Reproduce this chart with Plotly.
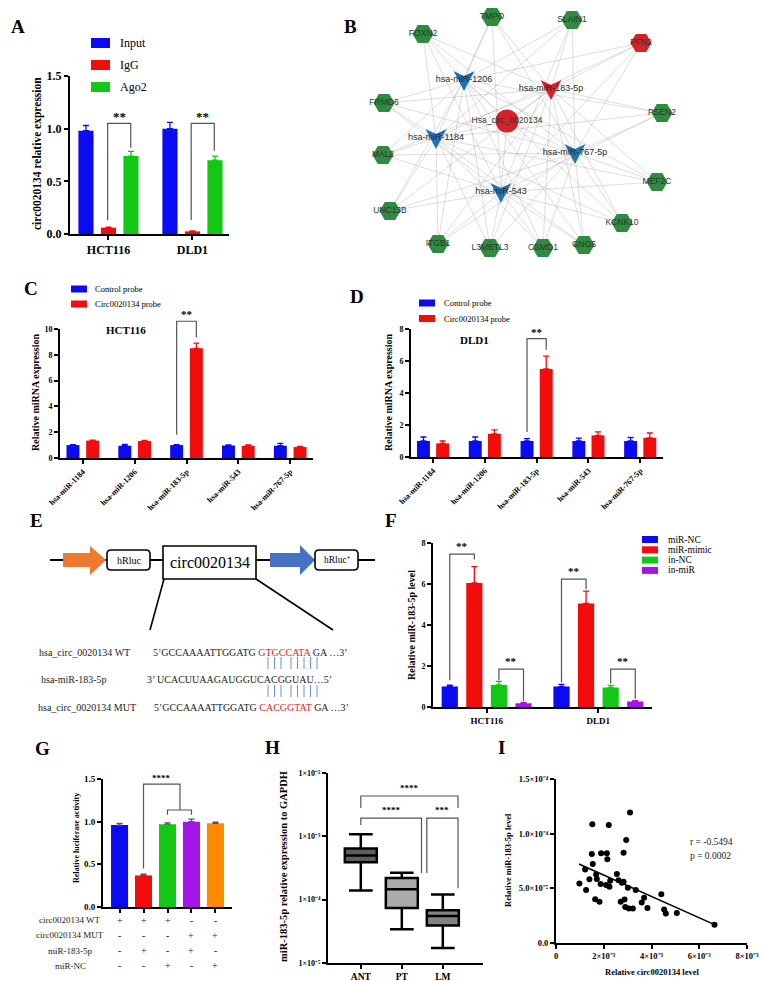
import plotly.graph_objects as go
import math

W, H = 762, 981
SERIF = "Liberation Serif"
SANS = "Liberation Sans"

BLUE = "#0B0BF2"
RED = "#F20C0C"
GREEN = "#12C812"
PURPLE = "#A414E6"
ORANGE = "#FF8A00"

# ---------------- data ----------------
# Panel A  (RIP)
a_cells = ["HCT116", "DLD1"]
a_series = ["Input", "IgG", "Ago2"]
a_input = [0.98, 1.00]
a_input_err = [0.05, 0.06]
a_igg = [0.06, 0.025]
a_igg_err = [0.006, 0.005]
a_ago2 = [0.74, 0.70]
a_ago2_err = [0.045, 0.04]

# Panel B  (ceRNA network)
circ_name = "Hsa_circ_0020134"
net_mirnas = ["hsa-miR-1206", "hsa-miR-183-5p", "hsa-miR-1184", "hsa-miR-767-5p", "hsa-miR-543"]
net_mirna_hit = [False, True, False, False, False]
net_genes = ["TMPO", "SLAIN1", "FOXN2", "PFN2", "FRMD6", "PSEN2", "MAL2", "MEF2C",
             "UNC13B", "KCNK10", "ITGB1", "L3MBTL3", "CSMD1", "GNG5"]
net_gene_hit = [False, False, False, True, False, False, False, False,
                False, False, False, False, False, False]
# layout positions of the network drawing (pixels)
pos_circ = (507, 121)
pos_mirnas = [(464, 80), (551, 89), (436, 138), (575, 153), (501, 192)]
pos_genes = [(492, 17), (572, 20), (423, 34), (641, 43), (384, 103), (662, 113),
             (383, 155), (657, 182), (390, 211), (622, 223), (438, 244), (490, 248),
             (543, 248), (584, 245)]

# Panels C / D (pull-down)
mirnas = ["hsa-miR-1184", "hsa-miR-1206", "hsa-miR-183-5p", "hsa-miR-543", "hsa-miR-767-5p"]
probe_series = ["Control probe", "Circ0020134 probe"]
c_control = [1.00, 0.95, 1.00, 0.97, 0.95]
c_control_err = [0.04, 0.10, 0.04, 0.04, 0.18]
c_probe = [1.35, 1.32, 8.50, 0.95, 0.85]
c_probe_err = [0.04, 0.05, 0.40, 0.07, 0.04]
d_control = [1.00, 1.00, 1.00, 1.00, 1.00]
d_control_err = [0.25, 0.25, 0.15, 0.18, 0.22]
d_probe = [0.85, 1.45, 5.50, 1.35, 1.20]
d_probe_err = [0.15, 0.25, 0.80, 0.22, 0.30]

# Panel F
f_cells = ["HCT116", "DLD1"]
f_series = ["miR-NC", "miR-mimic", "in-NC", "in-miR"]
f_mirnc = [1.00, 1.00]
f_mirnc_err = [0.07, 0.10]
f_mimic = [6.05, 5.05]
f_mimic_err = [0.80, 0.60]
f_innc = [1.08, 0.95]
f_innc_err = [0.17, 0.10]
f_inmir = [0.18, 0.27]
f_inmir_err = [0.04, 0.04]

# Panel G (luciferase)
g_vals = [0.96, 0.37, 0.97, 1.00, 0.98]
g_err = [0.02, 0.015, 0.015, 0.03, 0.015]
g_row_labels = ["circ0020134 WT", "circ0020134 MUT", "miR-183-5p", "miR-NC"]
g_rows = [["+", "+", "+", "-", "-"],
          ["-", "-", "-", "+", "+"],
          ["-", "+", "-", "+", "-"],
          ["-", "-", "+", "-", "+"]]

# Panel H (box plot, log scale)
h_groups = ["ANT", "PT", "LM"]
h_min = [1.40e-4, 3.4e-5, 1.73e-5]
h_q1 = [3.9e-4, 7.4e-5, 3.9e-5]
h_med = [5.0e-4, 1.46e-4, 5.5e-5]
h_q3 = [6.4e-4, 2.2e-4, 6.8e-5]
h_max = [1.08e-3, 2.67e-4, 1.21e-4]
h_fill = ["#5E5E5E", "#ABABAB", "#828282"]
h_ticktext = ["1×10⁻⁵", "1×10⁻⁴", "1×10⁻³", "1×10⁻²"]

# Panel I (correlation)
i_x = [0.98e-3, 1.26e-3, 1.22e-3, 1.40e-3, 1.50e-3, 1.52e-3, 1.54e-3, 1.64e-3, 1.68e-3, 1.71e-3,
       1.82e-3, 1.87e-3, 1.89e-3, 2.10e-3, 2.13e-3, 2.15e-3, 2.21e-3, 2.24e-3, 2.27e-3, 2.55e-3,
       2.62e-3, 2.71e-3, 2.76e-3, 2.83e-3, 2.83e-3, 2.87e-3, 2.90e-3, 2.94e-3, 3.01e-3, 3.05e-3,
       3.10e-3, 3.22e-3, 3.34e-3, 3.59e-3, 3.69e-3, 3.83e-3, 4.41e-3, 4.53e-3, 4.60e-3, 5.06e-3,
       6.64e-3]
i_y = [5.45e-5, 4.84e-5, 6.73e-5, 5.82e-5, 8.14e-5, 1.087e-4, 7.22e-5, 4.0e-5, 6.27e-5, 5.85e-5,
       3.77e-5, 5.39e-5, 8.2e-5, 5.3e-5, 8.2e-5, 7.65e-5, 1.08e-4, 5.14e-5, 5.7e-5, 6.3e-5,
       5.75e-5, 3.77e-5, 5.5e-5, 5.6e-5, 8.26e-5, 3.98e-5, 3.3e-5, 9.43e-5, 5.05e-5, 3.15e-5,
       1.194e-4, 3.15e-5, 4.84e-5, 3.7e-5, 4.13e-5, 3.21e-5, 4.47e-5, 3.06e-5, 2.69e-5, 2.75e-5,
       1.68e-5]
i_fit_x = [0.96e-3, 6.64e-3]
i_fit_y = [7.22e-5, 1.68e-5]
i_stats = ["r = -0.5494", "p = 0.0002"]
i_xticktext = ["0", "2×10⁻³", "4×10⁻³", "6×10⁻³", "8×10⁻³"]
i_yticktext = ["0.0", "5.0×10⁻⁵", "1.0×10⁻⁴", "1.5×10⁻⁴"]

# ---------------- geometry of the subplots (pixels) ----------------
# name: (left, right, xmin, xmax, top, bottom, ymin, ymax, ylog)
GEOM = {
    "A": (70, 229, -0.458, 1.435, 76, 234, 0, 1.5, False),
    "C": (60, 313, -0.44, 4.44, 329, 458, 0, 10, False),
    "D": (411, 663, -0.425, 4.44, 329, 457, 0, 8, False),
    "F": (433, 652, -0.48, 1.48, 543, 707, 0, 8, False),
    "G": (103, 232, -0.69, 4.69, 779, 907, 0, 1.5, False),
    "H": (328, 483, -0.80, 2.98, 773, 963, -5, -2, True),
    "I": (556, 747, 0, 8e-3, 779, 943, 0, 1.5e-4, False),
}

fig = go.Figure()


def px(panel, x, y):
    l, r, x0, x1, t, b, y0, y1, lg = GEOM[panel]
    if lg:
        y = math.log10(y)
    return l + (x - x0) / (x1 - x0) * (r - l), b - (y - y0) / (y1 - y0) * (b - t)


def xd(panel):
    g = GEOM[panel]
    return [g[0] / W, g[1] / W]


def yd(panel):
    g = GEOM[panel]
    return [1 - g[5] / H, 1 - g[4] / H]


def xr(panel):
    return [GEOM[panel][2], GEOM[panel][3]]


def yr(panel):
    return [GEOM[panel][6], GEOM[panel][7]]


def axis(domain, anchor, tick_size=9, bold=True, **kw):
    d = dict(domain=domain, anchor=anchor, showline=True, linecolor="black", linewidth=2,
             ticks="outside", tickcolor="black", tickwidth=2, ticklen=4,
             showgrid=False, zeroline=False, automargin=False, fixedrange=True,
             tickfont=dict(family=SERIF, size=tick_size, color="black",
                           weight="bold" if bold else "normal"))
    d.update(kw)
    return d


def bars(xa, ya, vals, errs, color, center, width, name):
    n = len(vals)
    fig.add_trace(go.Bar(
        x=list(range(n)), y=vals, name=name, offset=center - width / 2, width=width,
        marker=dict(color=color, line=dict(width=0)),
        error_y=dict(type="data", symmetric=False, array=errs, arrayminus=[0] * n,
                     color=color, thickness=1.3, width=3),
        xaxis=xa, yaxis=ya, showlegend=False, hoverinfo="y"))


def ctext(x, y, text, size=10, family=SERIF, bold=False, anchor="center", color="black", angle=0):
    fig.add_annotation(x=x, y=y, xref="x8", yref="y8", text=text, showarrow=False,
                       xanchor=anchor, yanchor="middle", textangle=angle,
                       font=dict(family=family, size=size, color=color,
                                 weight="bold" if bold else "normal"))


def bracket(panel, x0, x1, ytop, yl, yr_, label=None, ty=None, size=11, color="#555555"):
    p1 = px(panel, x0, yl)
    p2 = px(panel, x0, ytop)
    p3 = px(panel, x1, ytop)
    p4 = px(panel, x1, yr_)
    fig.add_trace(go.Scatter(
        x=[p1[0], p2[0], p3[0], p4[0]], y=[p1[1], p2[1], p3[1], p4[1]], mode="lines",
        line=dict(color=color, width=1.2), xaxis="x8", yaxis="y8",
        showlegend=False, hoverinfo="skip"))
    if label:
        tx, tyy = px(panel, (x0 + x1) / 2, ty)
        ctext(tx, tyy, label, size=size, bold=True)


def crect(x0, y0, x1, y1, fill, line_w=0, line_c="black"):
    fig.add_shape(type="rect", x0=x0, y0=y0, x1=x1, y1=y1, xref="x8", yref="y8",
                  fillcolor=fill, line=dict(width=line_w, color=line_c), layer="above")


def cline(x0, y0, x1, y1, color="black", w=1.5):
    fig.add_shape(type="line", x0=x0, y0=y0, x1=x1, y1=y1, xref="x8", yref="y8",
                  line=dict(color=color, width=w), layer="above")


def cpath(path, fill, line_w=0, line_c="black"):
    fig.add_shape(type="path", path=path, xref="x8", yref="y8", fillcolor=fill,
                  line=dict(width=line_w, color=line_c), layer="above")


def rounded(x0, y0, x1, y1, r):
    return (f"M {x0+r},{y0} L {x1-r},{y0} Q {x1},{y0} {x1},{y0+r} L {x1},{y1-r} "
            f"Q {x1},{y1} {x1-r},{y1} L {x0+r},{y1} Q {x0},{y1} {x0},{y1-r} "
            f"L {x0},{y0+r} Q {x0},{y0} {x0+r},{y0} Z")


# ---------------- Panel A ----------------
a_w = 0.18
bars("x", "y", a_input, a_input_err, BLUE, -0.268, a_w, a_series[0])
bars("x", "y", a_igg, a_igg_err, RED, 0.0, a_w, a_series[1])
bars("x", "y", a_ago2, a_ago2_err, GREEN, 0.268, a_w, a_series[2])
bracket("A", -0.01, 0.265, 1.05, 0.13, 0.82, "**", 1.12, size=13)
bracket("A", 0.985, 1.26, 1.05, 0.13, 0.79, "**", 1.12, size=13)
for i, (nm, col) in enumerate(zip(a_series, [BLUE, RED, GREEN])):
    yy = 43 + 22 * i
    crect(91, yy - 5, 110, yy + 5, col)
    ctext(118, yy, nm, size=12, anchor="left")
ctext(37, 154, "circ0020134 relative expression", size=11.5, bold=True, angle=-90)

# ---------------- Panel B (network) ----------------
ex, ey = [], []
for (mx, my) in pos_mirnas:
    ex += [pos_circ[0], mx, None]
    ey += [pos_circ[1], my, None]
    for (gx, gy) in pos_genes:
        ex += [mx, gx, None]
        ey += [my, gy, None]
fig.add_trace(go.Scatter(x=ex, y=ey, mode="lines", line=dict(color="rgba(150,150,150,0.42)", width=0.75),
                         xaxis="x8", yaxis="y8", showlegend=False, hoverinfo="skip"))
for hit, col in [(False, "#1F74B8"), (True, "#D42226")]:
    vx, vy = [], []
    for (mx, my), h in zip(pos_mirnas, net_mirna_hit):
        if h != hit:
            continue
        vx += [mx - 10.5, mx, mx + 10.5, mx, mx - 10.5, None]
        vy += [my - 9, my - 4, my - 9, my + 11, my - 9, None]
    fig.add_trace(go.Scatter(x=vx, y=vy, mode="lines", fill="toself", fillcolor=col,
                             line=dict(width=0, color=col), xaxis="x8", yaxis="y8",
                             showlegend=False, hoverinfo="skip"))
fig.add_trace(go.Scatter(
    x=[p[0] for p in pos_genes], y=[p[1] for p in pos_genes], mode="markers+text",
    text=net_genes, textposition="middle center",
    textfont=dict(family=SANS, size=8.5, color="#333333"),
    marker=dict(symbol="hexagon2", size=21,
                color=["#D42226" if h else "#2E8B3F" for h in net_gene_hit], line=dict(width=0)),
    xaxis="x8", yaxis="y8", showlegend=False))
fig.add_trace(go.Scatter(
    x=[pos_circ[0]], y=[pos_circ[1]], mode="markers+text", text=[circ_name],
    textposition="middle center", textfont=dict(family=SANS, size=8.5, color="#333333"),
    marker=dict(symbol="circle", size=23, color="#D42226", line=dict(width=0)),
    xaxis="x8", yaxis="y8", showlegend=False))
fig.add_trace(go.Scatter(
    x=[p[0] for p in pos_mirnas], y=[p[1] for p in pos_mirnas], mode="text", text=net_mirnas,
    textposition="middle center", textfont=dict(family=SANS, size=9, color="#2A2A2A"),
    xaxis="x8", yaxis="y8", showlegend=False))

# ---------------- Panel C ----------------
cd_w = 0.25
bars("x2", "y2", c_control, c_control_err, BLUE, -0.19, cd_w, probe_series[0])
bars("x2", "y2", c_probe, c_probe_err, RED, 0.19, cd_w, probe_series[1])
bracket("C", 1.81, 2.19, 10.6, 1.8, 9.35, "**", 11.2, size=11)
ctext(126, 330, "HCT116", size=11, bold=True)
for i, (nm, col) in enumerate(zip(probe_series, [BLUE, RED])):
    yy = 289 + 15 * i
    crect(71, yy - 3.5, 87, yy + 3.5, col)
    ctext(93, yy, nm, size=8.5, anchor="left")
ctext(35, 393, "Relative miRNA expression", size=10, bold=True, angle=-90)

# ---------------- Panel D ----------------
bars("x3", "y3", d_control, d_control_err, BLUE, -0.185, cd_w, probe_series[0])
bars("x3", "y3", d_probe, d_probe_err, RED, 0.185, cd_w, probe_series[1])
bracket("D", 1.815, 2.185, 7.4, 1.56, 6.7, "**", 7.8, size=11)
ctext(474, 340, "DLD1", size=11, bold=True)
for i, (nm, col) in enumerate(zip(probe_series, [BLUE, RED])):
    yy = 303 + 15.5 * i
    crect(419, yy - 3.5, 435, yy + 3.5, col)
    ctext(442, yy, nm, size=8.5, anchor="left")
ctext(388, 393, "Relative miRNA expression", size=10, bold=True, angle=-90)

# ---------------- Panel E (construct diagram) ----------------
cline(50, 560, 375, 560, w=2)
cpath("M 63,553 L 90,553 L 90,546 L 106,560 L 90,575 L 90,567 L 63,567 Z", "#EC7A30")
cpath(rounded(107, 550, 150, 570, 4), "white", 1.6)
ctext(128.5, 560, "hRluc", size=10)
cpath("M 163,546 L 256,546 L 256,579 L 163,579 Z", "white", 1.6)
ctext(209.5, 562.5, "circ0020134", size=16)
cpath("M 270,553 L 300,553 L 300,545 L 315,560 L 300,575 L 300,567 L 270,567 Z", "#4472C4")
cpath(rounded(315, 550, 358, 570, 4), "white", 1.6)
ctext(336.5, 560, "hRluc⁺", size=9.5)
cline(164, 579, 150, 630, w=1.6)
cline(256, 579, 333, 630, w=1.6)

SEQ_RED = "#E0231E"
ctext(84, 652, "hsa_circ_0020134 WT", size=10, color="#222222")
ctext(151, 652, "5’GCCAAAATTGGATG <span style='color:%s'>GTGCCATA</span> GA …3’" % SEQ_RED,
      size=10, anchor="left", color="#222222")
ctext(74, 679, "hsa-miR-183-5p", size=10, color="#222222")
ctext(145, 679, "3’ UCACUUAAGAUGGUCACGGUAU…5’", size=10, anchor="left", color="#222222")
ctext(87, 707, "hsa_circ_0020134 MUT", size=10, color="#222222")
ctext(152, 707, "5’GCCAAAATTGGATG <span style='color:%s'>CACGGTAT</span> GA …3’" % SEQ_RED,
      size=10, anchor="left", color="#222222")
for lx in [268, 274.5, 281, 291, 297.5, 304, 310.5, 317]:
    cline(lx, 657, lx, 669, color="#6C8FD2", w=1)
    cline(lx, 685, lx, 697, color="#6C8FD2", w=1)

# ---------------- Panel F ----------------
f_w = 0.145
bars("x4", "y4", f_mirnc, f_mirnc_err, BLUE, -0.33, f_w, f_series[0])
bars("x4", "y4", f_mimic, f_mimic_err, RED, -0.11, f_w, f_series[1])
bars("x4", "y4", f_innc, f_innc_err, GREEN, 0.11, f_w, f_series[2])
bars("x4", "y4", f_inmir, f_inmir_err, PURPLE, 0.33, f_w, f_series[3])
bracket("F", -0.33, -0.11, 7.46, 1.3, 7.2, "**", 7.85)
bracket("F", 0.11, 0.33, 1.85, 1.3, 0.3, "**", 2.22)
bracket("F", 0.67, 0.89, 6.24, 1.2, 5.75, "**", 6.62)
bracket("F", 1.11, 1.33, 1.85, 1.15, 0.4, "**", 2.22)
for i, (nm, col) in enumerate(zip(f_series, [BLUE, RED, GREEN, PURPLE])):
    yy = 539.5 + 10.3 * i
    crect(642, yy - 3.5, 658, yy + 3.5, col)
    ctext(666, yy, nm, size=9.5, anchor="left")
ctext(411, 625, "Relative miR-183-5p level", size=10, bold=True, angle=-90)

# ---------------- Panel G ----------------
g_cols = [BLUE, RED, GREEN, PURPLE, ORANGE]
fig.add_trace(go.Bar(
    x=list(range(5)), y=g_vals, width=0.71, marker=dict(color=g_cols, line=dict(width=0)),
    error_y=dict(type="data", symmetric=False, array=g_err, arrayminus=[0] * 5,
                 color="#555555", thickness=1.2, width=3),
    xaxis="x5", yaxis="y5", showlegend=False, name="Relative luciferase activity"))
bracket("G", 1.0, 2.52, 1.44, 0.45, 1.14, "****", 1.515, size=9)
bracket("G", 2.0, 3.0, 1.137, 1.08, 1.08)
for r, (lab, row) in enumerate(zip(g_row_labels, g_rows)):
    yy = 920 + 15.3 * r
    ctext(70, yy, lab, size=9, color="#222222")
    for k, s in enumerate(row):
        fig.add_annotation(x=k, y=yy, xref="x5", yref="y8", text=s, showarrow=False,
                           font=dict(family=SERIF, size=10, color="#222222"))
ctext(76, 838, "Relative luciferase activity", size=8, bold=True, angle=-90)

# ---------------- Panel H ----------------
for k, g in enumerate(h_groups):
    fig.add_trace(go.Box(
        x=[k], q1=[h_q1[k]], median=[h_med[k]], q3=[h_q3[k]],
        lowerfence=[h_min[k]], upperfence=[h_max[k]], name=g,
        fillcolor=h_fill[k], line=dict(color="black", width=2.5), width=0.78,
        whiskerwidth=0.74, boxpoints=False, xaxis="x6", yaxis="y6", showlegend=False))
bracket("H", 0.0, 2.37, 4.33e-3, 2.8e-3, 2.8e-3, "****", 5.8e-3, size=9)
bracket("H", 0.0, 1.48, 1.94e-3, 1.51e-3, 2.63e-4, "****", 2.6e-3, size=9)
bracket("H", 1.61, 2.37, 1.94e-3, 2.63e-4, 1.52e-4, "***", 2.6e-3, size=9)
ctext(283, 867, "miR-183-5p relative expression to GAPDH", size=10.5, bold=True, angle=-90)

# ---------------- Panel I ----------------
fig.add_trace(go.Scatter(x=i_x, y=i_y, mode="markers", marker=dict(color="black", size=6),
                         xaxis="x7", yaxis="y7", showlegend=False, name="samples"))
fig.add_trace(go.Scatter(x=i_fit_x, y=i_fit_y, mode="lines", line=dict(color="black", width=1.6),
                         xaxis="x7", yaxis="y7", showlegend=False, name="fit"))
ctext(688, 842, i_stats[0], size=9.5, anchor="left", color="#222222")
ctext(688, 856, i_stats[1], size=9.5, anchor="left", color="#222222")
ctext(508, 860, "Relative miR-183-5p level", size=8.5, bold=True, angle=-90)
ctext(652, 972, "Relative circ0020134 level", size=8.5, bold=True)

# ---------------- panel letters ----------------
for L, x, y in [("A", 9, 26), ("B", 342, 26), ("C", 22, 288), ("D", 348, 296), ("E", 28, 520),
                ("F", 383, 520), ("G", 33, 748), ("H", 263, 747), ("I", 496, 747)]:
    ctext(x, y, L, size=19, bold=True, anchor="left")

# ---------------- layout ----------------
fig.update_layout(
    width=W, height=H, margin=dict(l=0, r=0, t=0, b=0),
    paper_bgcolor="white", plot_bgcolor="rgba(0,0,0,0)",
    barmode="overlay", boxmode="overlay", showlegend=False,
    xaxis=axis(xd("A"), "y", range=xr("A"), tickvals=[0, 1], ticktext=a_cells, tick_size=12),
    yaxis=axis(yd("A"), "x", range=yr("A"), tickvals=[0, 0.5, 1.0, 1.5], tickformat=".1f", tick_size=12),
    xaxis2=axis(xd("C"), "y2", range=xr("C"), tickvals=list(range(5)), ticktext=mirnas,
                tickangle=-45, tick_size=8),
    yaxis2=axis(yd("C"), "x2", range=yr("C"), tickvals=[0, 2, 4, 6, 8, 10], tick_size=8),
    xaxis3=axis(xd("D"), "y3", range=xr("D"), tickvals=list(range(5)), ticktext=mirnas,
                tickangle=-45, tick_size=8),
    yaxis3=axis(yd("D"), "x3", range=yr("D"), tickvals=[0, 2, 4, 6, 8], tick_size=8),
    xaxis4=axis(xd("F"), "y4", range=xr("F"), tickvals=[0, 1], ticktext=f_cells, tick_size=9),
    yaxis4=axis(yd("F"), "x4", range=yr("F"), tickvals=[0, 2, 4, 6, 8], tick_size=8),
    xaxis5=axis(xd("G"), "y5", range=xr("G"), tickvals=list(range(5)), showticklabels=False),
    yaxis5=axis(yd("G"), "x5", range=yr("G"), tickvals=[0, 0.5, 1.0, 1.5], tickformat=".1f", tick_size=9),
    xaxis6=axis(xd("H"), "y6", range=xr("H"), tickvals=[0, 1, 2], ticktext=h_groups, tick_size=9.5),
    yaxis6=axis(yd("H"), "x6", type="log", range=yr("H"), tickvals=[1e-5, 1e-4, 1e-3, 1e-2],
                ticktext=h_ticktext, tick_size=8),
    xaxis7=axis(xd("I"), "y7", range=xr("I"), tickvals=[0, 2e-3, 4e-3, 6e-3, 8e-3],
                ticktext=i_xticktext, tick_size=8.5),
    yaxis7=axis(yd("I"), "x7", range=yr("I"), tickvals=[0, 5e-5, 1e-4, 1.5e-4],
                ticktext=i_yticktext, tick_size=8.5),
    xaxis8=dict(domain=[0, 1], anchor="y8", range=[0, W], visible=False, fixedrange=True),
    yaxis8=dict(domain=[0, 1], anchor="x8", range=[H, 0], visible=False, fixedrange=True),
)

fig.write_html("out.html", config={"displayModeBar": False},
               post_script="document.body.style.margin='0px';document.body.style.overflow='hidden';")
